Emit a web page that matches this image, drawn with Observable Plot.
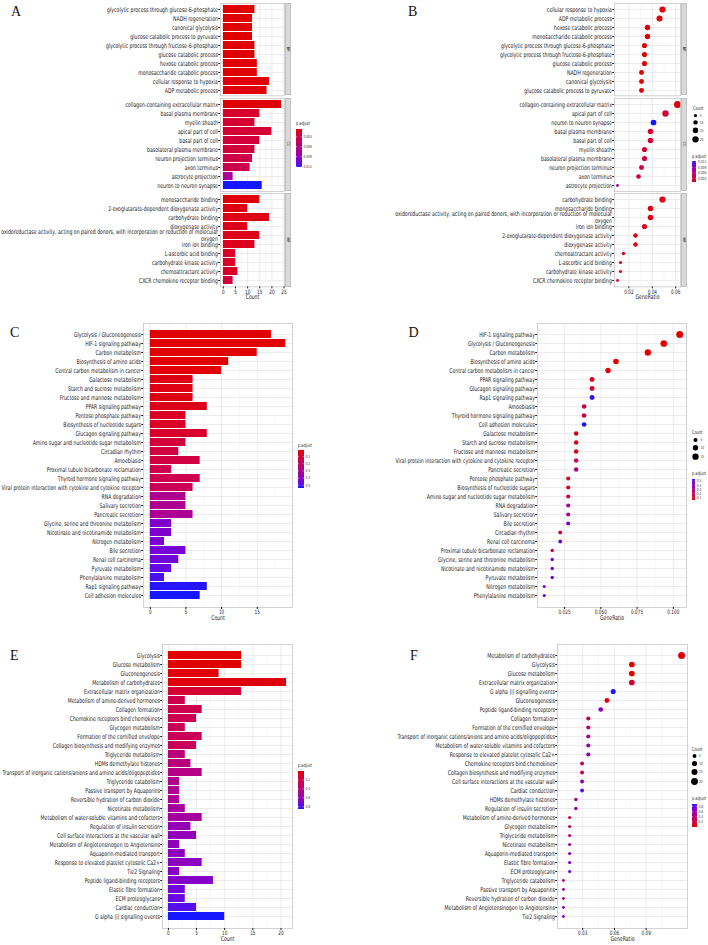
<!DOCTYPE html>
<html>
<head>
<meta charset="utf-8">
<script src="https://cdn.jsdelivr.net/npm/d3@7"></script>
<script src="https://cdn.jsdelivr.net/npm/@observablehq/plot@0.6"></script>
<style>
  html, body { margin: 0; padding: 0; background: #fff; }
  #fig { position: relative; width: 708px; height: 945px; overflow: hidden; background: #fff; }
  .blk { position: absolute; }
  .blk svg { display: block; }
  .tag { position: absolute; font-family: "Liberation Serif", "DejaVu Serif", serif; font-size: 14px; line-height: 1; color: #111; }
  .strip { position: absolute; background: #d9d9d9; border: 0.6px solid #c2c2c2; box-sizing: border-box; }
  .strip span { position: absolute; left: 50%; top: 50%; transform: translate(-50%, -50%) rotate(90deg); color: #222; white-space: nowrap; line-height: 1; }
  .ltitle { position: absolute; color: #1a1a1a; line-height: 1; white-space: nowrap; transform-origin: 0 50%; }
</style>
</head>
<body>
<div id="fig"></div>
<script>
// ---------------- GO enrichment (A: bars by Count, B: dots by GeneRatio) ----------------
const goBP = ["glycolytic process through glucose-6-phosphate", "NADH regeneration", "canonical glycolysis",
  "glucose catabolic process to pyruvate", "glycolytic process through fructose-6-phosphate", "glucose catabolic process",
  "hexose catabolic process", "monosaccharide catabolic process", "cellular response to hypoxia", "ADP metabolic process"];
const goBPCount = [13, 12, 12, 12, 13, 13, 14, 14, 19, 18];
const goBPPadj = [0.0008, 0.0008, 0.0008, 0.0008, 0.0009, 0.0009, 0.0009, 0.0009, 0.001, 0.001];

const goCC = ["collagen-containing extracellular matrix", "basal plasma membrane", "myelin sheath", "apical part of cell",
  "basal part of cell", "basolateral plasma membrane", "neuron projection terminus", "axon terminus",
  "astrocyte projection", "neuron to neuron synapse"];
const goCCCount = [24, 15, 13, 20, 15, 13, 12, 11, 4, 16];
const goCCPadj = [0.0009, 0.0022, 0.0024, 0.0026, 0.0028, 0.003, 0.0034, 0.0038, 0.0075, 0.0123];

const goMF = ["monosaccharide binding", "2-oxoglutarate-dependent dioxygenase activity", "carbohydrate binding",
  "dioxygenase activity", "oxidoreductase activity, acting on paired donors, with incorporation or reduction of molecular oxygen",
  "iron ion binding", "L-ascorbic acid binding", "carbohydrate kinase activity", "chemoattractant activity",
  "CXCR chemokine receptor binding"];
const goMFCount = [15, 10, 19, 10, 15, 13, 5, 5, 6, 4];
const goMFPadj = [0.0009, 0.0012, 0.0013, 0.0014, 0.0015, 0.0016, 0.0018, 0.0019, 0.002, 0.0028];

// dot-chart order (GeneRatio, descending)
const goBPDotOrder = ["cellular response to hypoxia", "ADP metabolic process", "hexose catabolic process",
  "monosaccharide catabolic process", "glycolytic process through glucose-6-phosphate",
  "glycolytic process through fructose-6-phosphate", "glucose catabolic process", "NADH regeneration",
  "canonical glycolysis", "glucose catabolic process to pyruvate"];
const goCCDotOrder = ["collagen-containing extracellular matrix", "apical part of cell", "neuron to neuron synapse",
  "basal plasma membrane", "basal part of cell", "myelin sheath", "basolateral plasma membrane",
  "neuron projection terminus", "axon terminus", "astrocyte projection"];
const goMFDotOrder = ["carbohydrate binding", "monosaccharide binding",
  "oxidoreductase activity, acting on paired donors, with incorporation or reduction of molecular oxygen",
  "iron ion binding", "2-oxoglutarate-dependent dioxygenase activity", "dioxygenase activity",
  "chemoattractant activity", "L-ascorbic acid binding", "carbohydrate kinase activity", "CXCR chemokine receptor binding"];
const goTotal = 390;               // GeneRatio denominator (annotated input genes)
const goCountTicks = [0, 5, 10, 15, 20, 25];
const goRatioTicks = [0.02, 0.04, 0.06];
const goPadjTicks = [0.003, 0.006, 0.009, 0.012];
const goSizeKeys = [5, 10, 15, 20];

// ---------------- KEGG enrichment (C: bars, D: dots) ----------------
const keggTerms = ["Glycolysis / Gluconeogenesis", "HIF-1 signaling pathway", "Carbon metabolism",
  "Biosynthesis of amino acids", "Central carbon metabolism in cancer", "Galactose metabolism",
  "Starch and sucrose metabolism", "Fructose and mannose metabolism", "PPAR signaling pathway",
  "Pentose phosphate pathway", "Biosynthesis of nucleotide sugars", "Glucagon signaling pathway",
  "Amino sugar and nucleotide sugar metabolism", "Circadian rhythm", "Amoebiasis",
  "Proximal tubule bicarbonate reclamation", "Thyroid hormone signaling pathway",
  "Viral protein interaction with cytokine and cytokine receptor", "RNA degradation", "Salivary secretion",
  "Pancreatic secretion", "Glycine, serine and threonine metabolism", "Nicotinate and nicotinamide metabolism",
  "Nitrogen metabolism", "Bile secretion", "Renal cell carcinoma", "Pyruvate metabolism",
  "Phenylalanine metabolism", "Rap1 signaling pathway", "Cell adhesion molecules"];
const keggCount = [17, 19, 15, 11, 10, 6, 6, 6, 8, 5, 5, 8, 5, 4, 7, 3, 7, 6, 5, 5, 6, 3, 3, 2, 5, 4, 3, 2, 8, 7];
const keggPadj = [0.015, 0.016, 0.017, 0.019, 0.021, 0.035, 0.036, 0.037, 0.045, 0.065, 0.066, 0.075, 0.11, 0.12,
  0.125, 0.15, 0.155, 0.17, 0.3, 0.305, 0.31, 0.43, 0.435, 0.44, 0.45, 0.46, 0.48, 0.51, 0.535, 0.54];
const keggDotOrder = ["HIF-1 signaling pathway", "Glycolysis / Gluconeogenesis", "Carbon metabolism",
  "Biosynthesis of amino acids", "Central carbon metabolism in cancer", "PPAR signaling pathway",
  "Glucagon signaling pathway", "Rap1 signaling pathway", "Amoebiasis", "Thyroid hormone signaling pathway",
  "Cell adhesion molecules", "Galactose metabolism", "Starch and sucrose metabolism",
  "Fructose and mannose metabolism", "Viral protein interaction with cytokine and cytokine receptor",
  "Pancreatic secretion", "Pentose phosphate pathway", "Biosynthesis of nucleotide sugars",
  "Amino sugar and nucleotide sugar metabolism", "RNA degradation", "Salivary secretion", "Bile secretion",
  "Circadian rhythm", "Renal cell carcinoma", "Proximal tubule bicarbonate reclamation",
  "Glycine, serine and threonine metabolism", "Nicotinate and nicotinamide metabolism", "Pyruvate metabolism",
  "Nitrogen metabolism", "Phenylalanine metabolism"];
const keggTotal = 182;
const keggCountTicks = [0, 5, 10, 15];
const keggRatioTicks = [0.025, 0.05, 0.075, 0.1];
const keggPadjTicks = [0.1, 0.2, 0.3, 0.4, 0.5];
const keggSizeKeys = [5, 10, 15];

// ---------------- Reactome enrichment (E: bars, F: dots) ----------------
const reactomeTerms = ["Glycolysis", "Glucose metabolism", "Gluconeogenesis", "Metabolism of carbohydrates",
  "Extracellular matrix organization", "Metabolism of amine-derived hormones", "Collagen formation",
  "Chemokine receptors bind chemokines", "Glycogen metabolism", "Formation of the cornified envelope",
  "Collagen biosynthesis and modifying enzymes", "Triglyceride metabolism", "HDMs demethylate histones",
  "Transport of inorganic cations/anions and amino acids/oligopeptides", "Triglyceride catabolism",
  "Passive transport by Aquaporins", "Reversible hydration of carbon dioxide", "Nicotinate metabolism",
  "Metabolism of water-soluble vitamins and cofactors", "Regulation of insulin secretion",
  "Cell surface interactions at the vascular wall", "Metabolism of Angiotensinogen to Angiotensins",
  "Aquaporin-mediated transport", "Response to elevated platelet cytosolic Ca2+", "Tie2 Signaling",
  "Peptide ligand-binding receptors", "Elastic fibre formation", "ECM proteoglycans", "Cardiac conduction",
  "G alpha (i) signalling events"];
const reactomeCount = [13, 13, 9, 21, 13, 3, 6, 5, 3, 6, 5, 3, 4, 6, 2, 2, 2, 3, 6, 4, 5, 2, 3, 6, 2, 8, 3, 3, 5, 10];
const reactomePadj = [0.007, 0.009, 0.02, 0.03, 0.14, 0.22, 0.23, 0.24, 0.26, 0.27, 0.28, 0.39, 0.4, 0.44, 0.47,
  0.48, 0.49, 0.52, 0.53, 0.61, 0.62, 0.63, 0.64, 0.65, 0.67, 0.68, 0.74, 0.76, 0.8, 0.87];
const reactomeDotOrder = ["Metabolism of carbohydrates", "Glycolysis", "Glucose metabolism",
  "Extracellular matrix organization", "G alpha (i) signalling events", "Gluconeogenesis",
  "Peptide ligand-binding receptors", "Collagen formation", "Formation of the cornified envelope",
  "Transport of inorganic cations/anions and amino acids/oligopeptides",
  "Metabolism of water-soluble vitamins and cofactors", "Response to elevated platelet cytosolic Ca2+",
  "Chemokine receptors bind chemokines", "Collagen biosynthesis and modifying enzymes",
  "Cell surface interactions at the vascular wall", "Cardiac conduction", "HDMs demethylate histones",
  "Regulation of insulin secretion", "Metabolism of amine-derived hormones", "Glycogen metabolism",
  "Triglyceride metabolism", "Nicotinate metabolism", "Aquaporin-mediated transport", "Elastic fibre formation",
  "ECM proteoglycans", "Triglyceride catabolism", "Passive transport by Aquaporins",
  "Reversible hydration of carbon dioxide", "Metabolism of Angiotensinogen to Angiotensins", "Tie2 Signaling"];
const reactomeTotal = 170;
const reactomeCountTicks = [0, 5, 10, 15, 20];
const reactomeRatioTicks = [0.03, 0.06, 0.09];
const reactomePadjTicks = [0.2, 0.4, 0.6, 0.8];
const reactomeSizeKeys = [5, 10, 15, 20];

// ---------------- helpers ----------------
const fig = document.getElementById("fig");
const FONT = '"DejaVu Sans Condensed", "Liberation Sans", Arial, sans-serif';
const SQUISH = 0.78;   // horizontal compression applied to all chart text
const ctx = document.createElement("canvas").getContext("2d");
// font size whose compressed width equals `width`
function fitSize(text, width) { ctx.font = `10px ${FONT}`; return 10 * width / SQUISH / ctx.measureText(text).width; }

const LABEL_FS = fitSize("glycolytic process through glucose-6-phosphate", 111);
const TICK_FS = fitSize("0.025", 12);
const TITLE_FS = fitSize("GeneRatio", 24);
const LEG_TITLE_FS = fitSize("p.adjust", 14);
const LEG_FS = fitSize("0.003", 8.3);

const RED = "#e10000", BLUE = "#1616ff";
const colorFor = domain => ({type: "linear", domain, range: [RED, BLUE], interpolate: d3.interpolateLab});
const expand = ([a, b]) => { const m = (b - a) * 0.05; return [a - m, b + m]; };
const wrapLabel = s => s.length > 90 ? s.slice(0, s.lastIndexOf(" ")) + "\n" + s.slice(s.lastIndexOf(" ") + 1) : s;
const baseStyle = {background: "transparent", color: "#1c1c1c", fontFamily: FONT, overflow: "visible"};

// compress every text element horizontally about its own anchor point
function squish(svg) {
  svg.querySelectorAll("text").forEach(t => {
    const tr = t.getAttribute("transform");
    if (tr) t.setAttribute("transform", `${tr} scale(${SQUISH},1)`);
    else {
      const x = +t.getAttribute("x") || 0;
      t.setAttribute("transform", `translate(${x},0) scale(${SQUISH},1) translate(${-x},0)`);
    }
  });
  return svg;
}
function place(node, left, top, width) {
  const d = document.createElement("div");
  d.className = "blk";
  d.style.left = left + "px";
  d.style.top = top + "px";
  if (width) d.style.width = width + "px";
  d.appendChild(squish(node));
  fig.appendChild(d);
}
function tag(letter, left, baseline) {
  const d = document.createElement("div");
  d.className = "tag";
  d.textContent = letter;
  d.style.left = left + "px";
  d.style.top = (baseline - 12.5) + "px";
  fig.appendChild(d);
}
function strip(text, x0, x1, y0, y1) {
  const d = document.createElement("div");
  d.className = "strip";
  Object.assign(d.style, {left: x0 + "px", top: y0 + "px", width: (x1 - x0) + "px", height: (y1 - y0) + "px"});
  const s = document.createElement("span");
  s.textContent = text;
  s.style.fontSize = (LEG_FS * 0.95) + "px";
  s.style.fontFamily = FONT;
  d.appendChild(s);
  fig.appendChild(d);
}
function legendTitle(text, left, cy) {
  const d = document.createElement("div");
  d.className = "ltitle";
  d.textContent = text;
  Object.assign(d.style, {left: left + "px", top: (cy - LEG_TITLE_FS / 2) + "px", fontSize: LEG_TITLE_FS + "px",
    fontFamily: FONT, transform: `scaleX(${SQUISH})`});
  fig.appendChild(d);
}
const rowsOf = (terms, counts, padj, total) =>
  terms.map((term, i) => ({term, count: counts[i], padj: padj[i], ratio: counts[i] / total}));
const reorder = (rows, order) => order.map(t => rows.find(r => r.term === t));

// one panel (or one facet) of a bar / dot chart
function chart({col, rows, kind, frame, xDomain, xTicks, xFormat, xTitle, colorDomain, rOpts}) {
  const [x0, x1, y0, y1] = frame;
  const mt = 1, mb = xTitle ? 17 : 1, mr = 3;
  const width = x1 - col + mr, height = y1 - y0 + mt + mb;
  const step = xTicks[1] - xTicks[0];
  const minor = xTicks.slice(0, -1).map((t, i) => (t + xTicks[i + 1]) / 2);
  if (xTicks[0] - step / 2 >= xDomain[0]) minor.unshift(xTicks[0] - step / 2);
  if (xTicks[xTicks.length - 1] + step / 2 <= xDomain[1]) minor.push(xTicks[xTicks.length - 1] + step / 2);
  const marks = [
    Plot.gridX(minor, {stroke: "#f1f1f1", strokeOpacity: 1, strokeWidth: 0.5}),
    Plot.gridX(xTicks, {stroke: "#e4e4e4", strokeOpacity: 1, strokeWidth: 0.7}),
    Plot.gridY({stroke: "#e4e4e4", strokeOpacity: 1, strokeWidth: 0.7}),
    kind === "bar"
      ? Plot.barX(rows, {x: "count", y: "term", fill: "padj"})
      : Plot.dot(rows, {x: "ratio", y: "term", r: "count", fill: "padj", stroke: null}),
    Plot.frame({stroke: "#c8c8c8", strokeWidth: 0.8}),
    Plot.axisY({label: null, tickSize: 1.8, tickPadding: 0.8, fontSize: LABEL_FS, tickFormat: wrapLabel, lineHeight: 1.1})
  ];
  if (xTitle) {
    marks.push(Plot.axisX(xTicks, {label: null, tickSize: 2, tickPadding: 0.6, fontSize: TICK_FS, tickFormat: xFormat}));
    marks.push(Plot.text([xTitle], {frameAnchor: "bottom", dy: 12, fontSize: TITLE_FS}));
  }
  const svg = Plot.plot({
    width, height, marginLeft: x0 - col, marginRight: mr, marginTop: mt, marginBottom: mb,
    style: baseStyle,
    x: {domain: xDomain, axis: null},
    y: {type: "band", domain: rows.map(d => d.term), paddingInner: 0.1, paddingOuter: 0.15, axis: null},
    color: colorFor(colorDomain),
    r: rOpts,
    marks
  });
  place(svg, col, y0 - mt, width);
}

// vertical colour bar for p.adjust
function colorLegend({x, top, w, h, domain, ticks, redTop, titleY}) {
  legendTitle("p.adjust", x, titleY);
  const [lo, hi] = domain, n = 48;
  const slices = d3.range(n).map(i => ({a: lo + (hi - lo) * i / n, b: lo + (hi - lo) * (i + 1) / n}));
  const svg = Plot.plot({
    width: w + 18, height: h, margin: 0, marginRight: 18,
    style: baseStyle,
    x: {type: "identity", axis: null},
    y: {domain, reverse: redTop, axis: null},
    color: colorFor(domain),
    marks: [
      Plot.rect(slices, {x1: 0, x2: w, y1: "a", y2: "b", fill: d => (d.a + d.b) / 2, shapeRendering: "crispEdges"}),
      Plot.ruleY(ticks, {x1: 0, x2: w / 5, stroke: "white", strokeWidth: 0.5}),
      Plot.ruleY(ticks, {x1: w * 4 / 5, x2: w, stroke: "white", strokeWidth: 0.5}),
      Plot.text(ticks, {x: w + 1.3, y: d => d, text: d => String(d), textAnchor: "start", fontSize: LEG_FS, fill: "#333"})
    ]
  });
  place(svg, x, top, w + 18);
}

// size keys for Count
function sizeLegend({x, titleY, firstY, values, rOpts, cx, labelX}) {
  legendTitle("Count", x, titleY);
  const rs = d3.scalePow().exponent(0.5).domain(rOpts.domain).range(rOpts.range);
  const hs = values.map(v => 2 * rs(v) + 3);
  const ys = [];
  let acc = 0;
  hs.forEach(h => { ys.push(acc + h / 2); acc += h; });
  const svg = Plot.plot({
    width: 16, height: acc, margin: 0,
    style: baseStyle,
    x: {type: "identity", axis: null},
    y: {type: "identity", axis: null},
    r: rOpts,
    marks: [
      Plot.dot(values, {x: cx, y: (d, i) => ys[i], r: d => d, fill: "black", stroke: null}),
      Plot.text(values, {x: labelX, y: (d, i) => ys[i], text: d => String(d), textAnchor: "start", fontSize: LEG_FS, fill: "#333"})
    ]
  });
  place(svg, x, firstY - ys[0], 16);
}

// ---------------- assemble ----------------
const goFacets = [
  {name: "BP", rows: rowsOf(goBP, goBPCount, goBPPadj, goTotal), order: goBPDotOrder, y: [2.7, 95]},
  {name: "CC", rows: rowsOf(goCC, goCCCount, goCCPadj, goTotal), order: goCCDotOrder, y: [97.7, 190.7]},
  {name: "MF", rows: rowsOf(goMF, goMFCount, goMFPadj, goTotal), order: goMFDotOrder, y: [193.3, 286.7]}
];
const goAll = goFacets.flatMap(f => f.rows);
const goPadjDomain = d3.extent(goAll, d => d.padj);
const goCountDomain = expand([0, d3.max(goAll, d => d.count)]);
const goRatioDomain = expand(d3.extent(goAll, d => d.ratio));
const goR = {type: "pow", exponent: 0.5, domain: d3.extent(goAll, d => d.count), range: [1.4, 3.5]};

goFacets.forEach((f, i) => {
  const last = i === goFacets.length - 1;
  chart({col: 0, rows: f.rows, kind: "bar", frame: [220, 284, ...f.y], xDomain: goCountDomain,
    xTicks: goCountTicks, xFormat: d3.format("d"), xTitle: last ? "Count" : null, colorDomain: goPadjDomain});
  strip(f.name, 285.3, 290.8, ...f.y);
  chart({col: 354, rows: reorder(f.rows, f.order), kind: "dot", frame: [614, 680, ...f.y], xDomain: goRatioDomain,
    xTicks: goRatioTicks, xFormat: d3.format(".2f"), xTitle: last ? "GeneRatio" : null, colorDomain: goPadjDomain, rOpts: goR});
  strip(f.name, 681, 686.5, ...f.y);
});
colorLegend({x: 296, top: 129, w: 5.7, h: 38.3, domain: goPadjDomain, ticks: goPadjTicks, redTop: true, titleY: 123.5});
sizeLegend({x: 692.5, titleY: 108.3, firstY: 115, values: goSizeKeys, rOpts: goR, cx: 2, labelX: 6.2});
colorLegend({x: 692, top: 161, w: 4.2, h: 21, domain: goPadjDomain, ticks: goPadjTicks, redTop: false, titleY: 156});

const keggRows = rowsOf(keggTerms, keggCount, keggPadj, keggTotal);
const keggPadjDomain = d3.extent(keggRows, d => d.padj);
const keggR = {type: "pow", exponent: 0.5, domain: d3.extent(keggRows, d => d.count), range: [1.5, 3.5]};
chart({col: 0, rows: keggRows, kind: "bar", frame: [143, 292, 323, 607], xDomain: expand([0, d3.max(keggRows, d => d.count)]),
  xTicks: keggCountTicks, xFormat: d3.format("d"), xTitle: "Count", colorDomain: keggPadjDomain});
chart({col: 354, rows: reorder(keggRows, keggDotOrder), kind: "dot", frame: [537, 686, 323, 607],
  xDomain: expand(d3.extent(keggRows, d => d.ratio)), xTicks: keggRatioTicks, xFormat: d3.format(".3f"),
  xTitle: "GeneRatio", colorDomain: keggPadjDomain, rOpts: keggR});
colorLegend({x: 297.7, top: 450, w: 5.6, h: 37.7, domain: keggPadjDomain, ticks: keggPadjTicks, redTop: true, titleY: 445.7});
sizeLegend({x: 692, titleY: 432.3, firstY: 440, values: keggSizeKeys, rOpts: keggR, cx: 3, labelX: 8});
colorLegend({x: 692.3, top: 478.7, w: 3, h: 21.3, domain: keggPadjDomain, ticks: keggPadjTicks, redTop: false, titleY: 473.3});

const reactomeRows = rowsOf(reactomeTerms, reactomeCount, reactomePadj, reactomeTotal);
const reactomePadjDomain = d3.extent(reactomeRows, d => d.padj);
const reactomeR = {type: "pow", exponent: 0.5, domain: d3.extent(reactomeRows, d => d.count), range: [1.4, 3.5]};
chart({col: 0, rows: reactomeRows, kind: "bar", frame: [162, 292, 644, 928], xDomain: expand([0, d3.max(reactomeRows, d => d.count)]),
  xTicks: reactomeCountTicks, xFormat: d3.format("d"), xTitle: "Count", colorDomain: reactomePadjDomain});
chart({col: 354, rows: reorder(reactomeRows, reactomeDotOrder), kind: "dot", frame: [557, 687, 644, 928],
  xDomain: expand(d3.extent(reactomeRows, d => d.ratio)), xTicks: reactomeRatioTicks, xFormat: d3.format(".2f"),
  xTitle: "GeneRatio", colorDomain: reactomePadjDomain, rOpts: reactomeR});
colorLegend({x: 297.7, top: 770.7, w: 5.6, h: 38.3, domain: reactomePadjDomain, ticks: reactomePadjTicks, redTop: true, titleY: 765.7});
sizeLegend({x: 692, titleY: 749, firstY: 755.7, values: reactomeSizeKeys, rOpts: reactomeR, cx: 2, labelX: 6.5});
colorLegend({x: 692.3, top: 804, w: 4.7, h: 22.7, domain: reactomePadjDomain, ticks: reactomePadjTicks, redTop: false, titleY: 798.7});

tag("A", 11, 17.5); tag("B", 408, 17.5);
tag("C", 10, 338.3); tag("D", 408.5, 338);
tag("E", 10, 661.8); tag("F", 410, 661.8);
</script>
</body>
</html>
